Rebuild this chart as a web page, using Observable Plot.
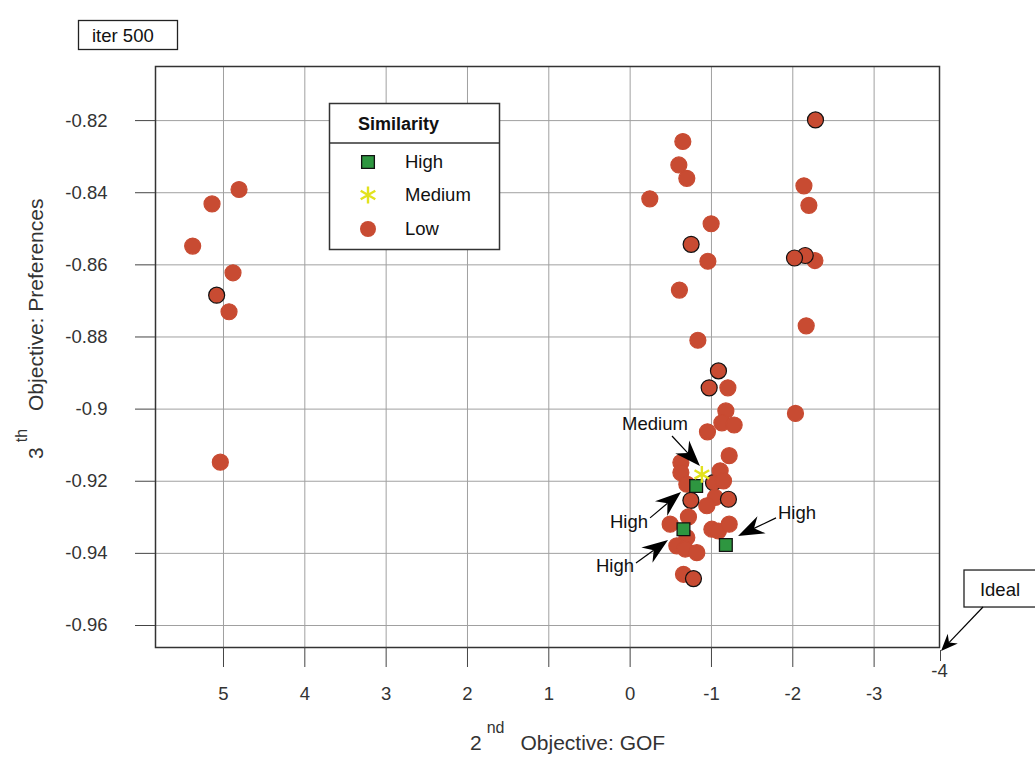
<!DOCTYPE html>
<html><head><meta charset="utf-8">
<script src="https://cdn.jsdelivr.net/npm/d3@7"></script>
<script src="https://cdn.jsdelivr.net/npm/@observablehq/plot@0.6"></script>
<style>
body{margin:0;background:#fff;font-family:"Liberation Sans",Arial,Helvetica,sans-serif}
svg{display:block}
</style>
</head><body><div id="chart"></div>
<script>
// ---- data ----
const lowX = [4.809,5.141,5.379,4.883,5.084,4.932,5.039,
  -2.279,-0.648,-0.599,-0.697,-0.242,-2.137,-2.198,-0.996,-0.750,-0.956,-2.272,-2.153,-2.021,
  -0.606,-2.165,-0.833,-1.086,-0.972,-1.202,-2.033,-1.177,-1.128,-1.279,-0.951,-1.218,
  -0.624,-0.624,-0.697,-1.025,-1.107,-1.148,-1.046,-0.943,-0.747,-1.209,-0.717,-0.492,
  -0.697,-1.005,-1.086,-1.218,-0.574,-0.677,-0.820,-0.656,-0.779];
const lowY = [-0.8391,-0.8431,-0.8548,-0.8622,-0.8684,-0.8730,-0.9147,
  -0.8198,-0.8258,-0.8323,-0.8360,-0.8417,-0.8381,-0.8435,-0.8486,-0.8543,-0.8590,-0.8588,-0.8574,-0.8581,
  -0.8670,-0.8769,-0.8809,-0.8894,-0.8941,-0.8941,-0.9012,-0.9005,-0.9038,-0.9044,-0.9063,-0.9129,
  -0.9148,-0.9176,-0.9208,-0.9204,-0.9171,-0.9199,-0.9245,-0.9268,-0.9253,-0.9250,-0.9299,-0.9319,
  -0.9356,-0.9333,-0.9338,-0.9319,-0.9379,-0.9388,-0.9398,-0.9458,-0.9470];
const lowOutlined = [0,0,0,0,1,0,0,
  1,0,0,0,0,0,0,0,1,0,0,1,1,
  0,0,0,1,1,0,0,0,0,0,0,0,
  0,0,0,1,0,0,0,0,1,1,0,0,
  0,0,0,0,0,0,0,0,1];
const highX = [-0.812,-0.656,-1.177];
const highY = [-0.9213,-0.9333,-0.9377];
const mediumX = [-0.882];
const mediumY = [-0.9181];

const categories = ["High","Medium","Low"];
const xTicks = [5,4,3,2,1,0,-1,-2,-3];
const yTicks = [-0.82,-0.84,-0.86,-0.88,-0.9,-0.92,-0.94,-0.96];
const xDomain = [5.836,-3.804];
const yDomain = [-0.9661,-0.805];
const cornerLabel = "-4";
const titleText = "iter 500";
const legendTitle = "Similarity";
const xTitle = ["2","nd","Objective: GOF"];
const yTitle = ["3","th","Objective: Preferences"];

// annotations: text centre (tx,ty), arrow tail (x1,y1), arrow tip (x2,y2)
const annLabels = ["Medium","High","High","High","Ideal"];
const annTX = [-0.312, 0.008, 0.180,-2.058,-4.554];
const annTY = [-0.9040,-0.9312,-0.9436,-0.9287,-0.9503];
const annX1 = [-0.521,-0.251,-0.078,-1.800,-4.345];
const annY1 = [-0.9076,-0.9303,-0.9428,-0.9303,-0.9550];
const annX2 = [-0.865,-0.632,-0.472,-1.333,-3.829];
const annY2 = [-0.9159,-0.9231,-0.9364,-0.9353,-0.9672];

// ---- build ----
const low = lowX.map((x,i)=>({x, y: lowY[i], outlined: lowOutlined[i]===1}));
const high = highX.map((x,i)=>({x, y: highY[i]}));
const medium = mediumX.map((x,i)=>({x, y: mediumY[i]}));

const colLow = "#c84b32", colHigh = "#2e9640", colMed = "#e2e21e";
const FONT = '"Liberation Sans",Arial,Helvetica,sans-serif';

const plot = Plot.plot({
  width: 1035, height: 758,
  marginLeft: 155, marginRight: 96, marginTop: 66, marginBottom: 111,
  x: {domain: xDomain},
  y: {domain: yDomain},
  color: {type: "identity"},
  style: {fontFamily: FONT, fontSize: "18.5px", color: "#333", background: "white", overflow: "visible"},
  marks: [
    Plot.gridX(xTicks, {stroke: "#a0a0a0", strokeOpacity: 1, strokeWidth: 1}),
    Plot.gridY(yTicks, {stroke: "#a0a0a0", strokeOpacity: 1, strokeWidth: 1}),
    Plot.frame({stroke: "#333", strokeWidth: 1.5}),
    Plot.axisX(xTicks, {tickSize: 20, tickPadding: 19, tickFormat: d => String(d), label: null, stroke: "#444", fill: "#333", fontSize: 18.5}),
    Plot.axisY(yTicks, {tickSize: 20, tickPadding: 28, tickFormat: d => String(d), label: null, stroke: "#444", fill: "#333", fontSize: 18.5}),
    Plot.text([cornerLabel], {x: [xDomain[1]], frameAnchor: "bottom", dy: 29, text: d => d, fill: "#333", fontSize: 18.5}),
    Plot.dot(low, {x: "x", y: "y", r: 8, fill: colLow, stroke: d => d.outlined ? "#111111" : colLow, strokeWidth: 1.2}),
    Plot.dot(high, {x: "x", y: "y", r: 7.2, symbol: "square", fill: colHigh, stroke: "#111", strokeWidth: 1.3}),
    Plot.dot(medium, {x: "x", y: "y", r: 8, symbol: "asterisk", stroke: colMed, strokeWidth: 2.4})
  ]
});

document.getElementById("chart").appendChild(plot);

const svg = d3.select(plot);
const sx = v => plot.scale("x").apply(v);
const sy = v => plot.scale("y").apply(v);
const g = svg.append("g").attr("font-family", FONT).attr("text-anchor", "start");

// corner tick
g.append("line").attr("x1", sx(xDomain[1]) + 1.5).attr("x2", sx(xDomain[1]) + 1.5)
  .attr("y1", sy(yDomain[0]) + 3).attr("y2", sy(yDomain[0]) + 14).attr("stroke", "#444");

// annotations
function arrow(x1, y1, x2, y2, L, W) {
  const dx = x2 - x1, dy = y2 - y1, len = Math.hypot(dx, dy);
  const ux = dx / len, uy = dy / len, px = -uy, py = ux;
  const bx = x2 - L * ux, by = y2 - L * uy;
  const nx = x2 - 0.68 * L * ux, ny = y2 - 0.68 * L * uy;
  g.append("line").attr("x1", x1).attr("y1", y1).attr("x2", nx).attr("y2", ny)
    .attr("stroke", "#000").attr("stroke-width", 1.2);
  g.append("path").attr("d", `M${x2},${y2}L${bx + W * px},${by + W * py}L${nx},${ny}L${bx - W * px},${by - W * py}Z`)
    .attr("fill", "#000");
}
annLabels.forEach((lab, i) => {
  const tx = sx(annTX[i]), ty = sy(annTY[i]);
  if (lab === "Ideal") {
    g.append("rect").attr("x", tx - 36).attr("y", ty - 20).attr("width", 72).attr("height", 37)
      .attr("fill", "#fff").attr("stroke", "#222").attr("stroke-width", 1.3);
    arrow(sx(annX1[i]), sy(annY1[i]), sx(annX2[i]), sy(annY2[i]), 17, 7);
  } else {
    arrow(sx(annX1[i]), sy(annY1[i]), sx(annX2[i]), sy(annY2[i]), 26, 9.5);
  }
  g.append("text").attr("x", tx).attr("y", ty).attr("dy", "0.35em").attr("text-anchor", "middle")
    .attr("font-size", 18.5).attr("fill", "#111").text(lab);
});

// title box
g.append("rect").attr("x", 78.5).attr("y", 20.5).attr("width", 99).attr("height", 29)
  .attr("fill", "#fff").attr("stroke", "#222").attr("stroke-width", 1.3);
g.append("text").attr("x", 92).attr("y", 42).attr("text-anchor", "start").attr("font-size", 18.5).attr("fill", "#111").text(titleText);

// legend
const lg = g.append("g");
lg.append("rect").attr("x", 329.5).attr("y", 103.5).attr("width", 170).attr("height", 146)
  .attr("fill", "#fff").attr("stroke", "#333").attr("stroke-width", 1.5);
lg.append("line").attr("x1", 329.5).attr("x2", 499.5).attr("y1", 143).attr("y2", 143)
  .attr("stroke", "#333").attr("stroke-width", 1.3);
lg.append("text").attr("x", 358).attr("y", 130).attr("text-anchor", "start").attr("font-size", 18).attr("font-weight", "bold")
  .attr("fill", "#111").text(legendTitle);
const legY = [162, 195, 229];
categories.forEach((c, i) => {
  const y = legY[i];
  if (c === "High") {
    lg.append("path").attr("transform", `translate(368,${y})`)
      .attr("d", d3.symbol(d3.symbolSquare, Math.PI * 7.2 * 7.2)())
      .attr("fill", colHigh).attr("stroke", "#111").attr("stroke-width", 1.3);
  } else if (c === "Medium") {
    lg.append("path").attr("transform", `translate(368,${y})`)
      .attr("d", d3.symbol(d3.symbolAsterisk, Math.PI * 8 * 8)())
      .attr("fill", "none").attr("stroke", colMed).attr("stroke-width", 2.4);
  } else {
    lg.append("circle").attr("cx", 368).attr("cy", y).attr("r", 8).attr("fill", colLow);
  }
  lg.append("text").attr("x", 405).attr("y", y).attr("dy", "0.3em").attr("text-anchor", "start").attr("font-size", 18.5)
    .attr("fill", "#111").text(c);
});

// axis titles
const xt = g.append("text").attr("x", 470).attr("y", 750).attr("text-anchor", "start").attr("fill", "#333").attr("font-size", 21);
xt.append("tspan").text(xTitle[0]);
xt.append("tspan").attr("dx", 5).attr("dy", -17).attr("font-size", 16).text(xTitle[1]);
xt.append("tspan").attr("dx", 16).attr("dy", 17).text(xTitle[2]);

const yt = g.append("text").attr("transform", "translate(43,459) rotate(-90)").attr("text-anchor", "start").attr("fill", "#333").attr("font-size", 21);
yt.append("tspan").text(yTitle[0]);
yt.append("tspan").attr("dx", 5).attr("dy", -16).attr("font-size", 16).text(yTitle[1]);
yt.append("tspan").attr("dx", 18).attr("dy", 16).text(yTitle[2]);
</script>
</body></html>
